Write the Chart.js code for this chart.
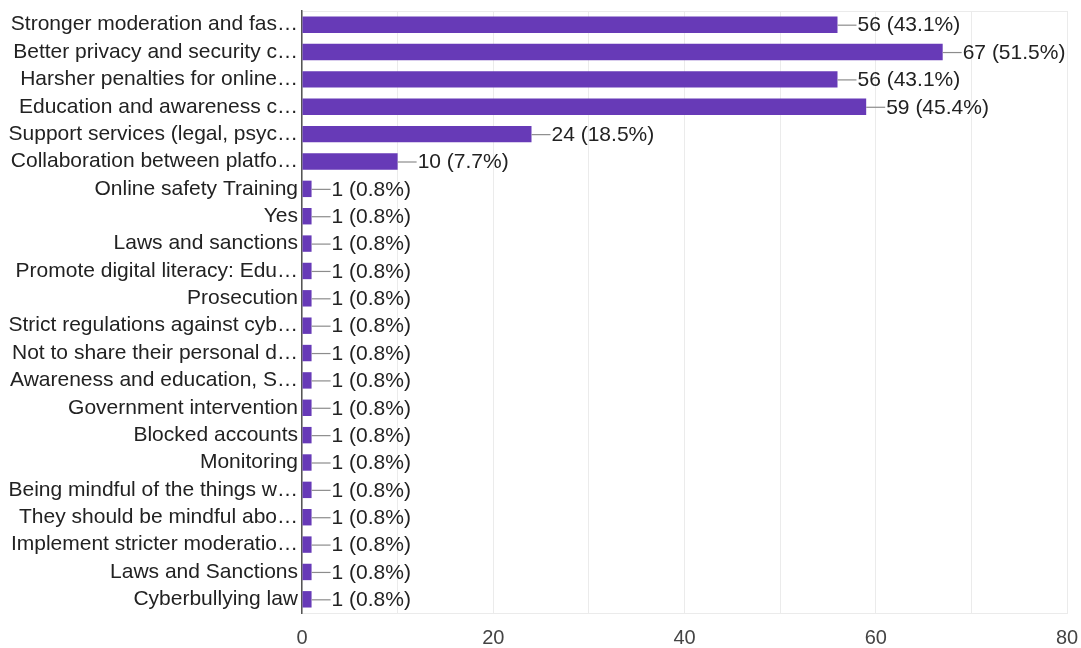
<!DOCTYPE html>
<html>
<head>
<meta charset="utf-8">
<script src="https://cdn.jsdelivr.net/npm/chart.js@4"></script>
<style>
  body { margin: 0; background: #fff; }
</style>
</head>
<body>
<canvas id="chart" width="1081" height="648"></canvas>
<script>
const labels = [
  'Stronger moderation and fas…',
  'Better privacy and security c…',
  'Harsher penalties for online…',
  'Education and awareness c…',
  'Support services (legal, psyc…',
  'Collaboration between platfo…',
  'Online safety Training',
  'Yes',
  'Laws and sanctions',
  'Promote digital literacy: Edu…',
  'Prosecution',
  'Strict regulations against cyb…',
  'Not to share their personal d…',
  'Awareness and education, S…',
  'Government intervention',
  'Blocked accounts',
  'Monitoring',
  'Being mindful of the things w…',
  'They should be mindful abo…',
  'Implement stricter moderatio…',
  'Laws and Sanctions',
  'Cyberbullying law'
];
const counts = [56, 67, 56, 59, 24, 10, 1, 1, 1, 1, 1, 1, 1, 1, 1, 1, 1, 1, 1, 1, 1, 1];
const respondents = 130;
const xTicks = [0, 20, 40, 60, 80];

const FONT = "'Liberation Sans', Arial, sans-serif";

// draws the "—56 (43.1%)" label next to each bar
const valueLabels = {
  id: 'valueLabels',
  afterDatasetsDraw(chart) {
    const ctx = chart.ctx;
    const meta = chart.getDatasetMeta(0);
    ctx.save();
    ctx.font = '21px ' + FONT;
    ctx.textBaseline = 'middle';
    meta.data.forEach((bar, i) => {
      const v = counts[i];
      const pct = (v / respondents * 100).toFixed(1);
      ctx.strokeStyle = '#8c8c8c';
      ctx.lineWidth = 1.2;
      ctx.beginPath();
      ctx.moveTo(bar.x, bar.y + 0.5);
      ctx.lineTo(bar.x + 19, bar.y + 0.5);
      ctx.stroke();
      ctx.fillStyle = '#222';
      ctx.fillText(v + ' (' + pct + '%)', bar.x + 20, bar.y + 1);
    });
    ctx.restore();
  }
};

new Chart(document.getElementById('chart'), {
  type: 'bar',
  data: {
    labels,
    datasets: [{
      data: counts,
      backgroundColor: '#673ab7',
      barPercentage: 0.6,
      categoryPercentage: 1.0
    }]
  },
  options: {
    indexAxis: 'y',
    responsive: false,
    animation: false,
    layout: { padding: { top: 11, right: 14, left: 0, bottom: 0 } },
    plugins: { legend: { display: false }, tooltip: { enabled: false } },
    scales: {
      x: {
        min: 0,
        max: 80,
        ticks: {
          stepSize: 10,
          color: '#444',
          font: { family: FONT, size: 20 },
          padding: 13,
          maxRotation: 0,
          callback: v => xTicks.includes(v) ? v : ''
        },
        grid: { color: '#ebebeb', drawTicks: false },
        border: { color: '#ebebeb' },
        afterFit: scale => {
          scale.height = 35;
          scale.paddingLeft = 0;
          scale.paddingRight = 0;
        }
      },
      y: {
        ticks: {
          color: '#222',
          font: { family: FONT, size: 21 },
          padding: 4,
          autoSkip: false
        },
        grid: {
          drawTicks: false,
          color: ctx => (ctx.index === 0 || ctx.index === labels.length) ? '#ebebeb' : 'rgba(0,0,0,0)'
        },
        border: { color: '#555', width: 1.5 },
        afterFit: scale => {
          scale.width = 302;
          scale.paddingTop = 0;
          scale.paddingBottom = 0;
        }
      }
    }
  },
  plugins: [valueLabels]
});
</script>
</body>
</html>
